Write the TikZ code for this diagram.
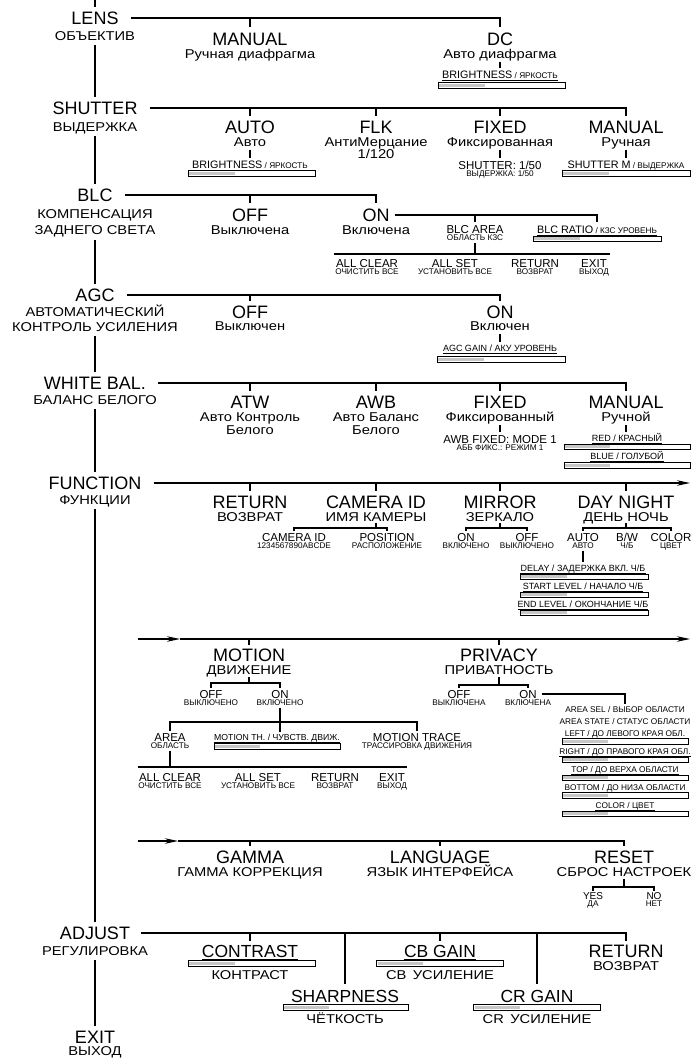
\documentclass[tikz,border=0pt]{standalone}
\usepackage{fontspec}
\setmainfont{Liberation Sans}
\newfontfamily\widefont{Liberation Sans}[FakeStretch=1.15]
\usetikzlibrary{arrows.meta}
\definecolor{barc}{gray}{0.78}
\tikzset{
 tb/.style={inner sep=0pt, text depth=0pt, anchor=center},
 tbig/.style={tb, font=\fontsize{18}{18}\selectfont, text height=12.9pt},
 tbig2/.style={tb, font=\fontsize{17.5}{18}\selectfont, text height=12.5pt},
 tru/.style={tb, font=\widefont\fontsize{12.8}{13}\selectfont, text height=9.2pt},
 tmid/.style={tb, font=\fontsize{11.5}{12}\selectfont, text height=8.2pt},
 tyes/.style={tb, font=\fontsize{10}{10}\selectfont, text height=7.2pt},
 tsm/.style={tb, font=\fontsize{8.2}{9}\selectfont, text height=5.9pt},
 tlab/.style={tb, font=\fontsize{10.8}{11}\selectfont, text height=7.7pt},
 tslsm/.style={tb, font=\fontsize{9}{10}\selectfont, text height=6.4pt},
 tlst/.style={tb, font=\fontsize{8.3}{9}\selectfont, text height=6pt},
 lw/.style={line width=1.1pt},
 sbox/.style={draw, line width=0.9pt, minimum height=5.5pt, inner sep=0pt, fill=white},
 arr/.style={-{Stealth[length=13pt,width=5.5pt,inset=4pt]}},
}
\newcommand\smallpart[1]{{\fontsize{8.2}{9}\selectfont #1}}
\newcommand\slab[4][]{\node[tlab,#1] (#2) at (#3) {#4};
 \draw[line width=0.6pt] ([yshift=-1.6pt]#2.south west) -- ([yshift=-1.6pt]#2.south east);}
\newcommand\sbar[3]{\node[sbox, minimum width=#3] (#1) at (#2) {};
 \fill[barc] ([shift={(1.6pt,-1.3pt)}]#1.north west) rectangle ([shift={(0.37*#3,1.9pt)}]#1.south west);}
\begin{document}
\begin{tikzpicture}[x=1pt,y=-1pt]
\fill[white] (0,0) rectangle (691,1059);
\useasboundingbox (0,0) rectangle (691,1059);

% ---------- main column ----------
\coordinate (mtop) at (95,0);
\node[tbig] (lens) at (95,18) {LENS};
\node[tru] (lensr) at (95,36) {ОБЪЕКТИВ};
\node[tbig] (sh) at (95,108) {SHUTTER};
\node[tru] (shr) at (95,127) {ВЫДЕРЖКА};
\node[tbig] (blc) at (95,195) {BLC};
\node[tru] (blcr) at (95,214) {КОМПЕНСАЦИЯ};
\node[tru] (blcr2) at (95,230) {ЗАДНЕГО СВЕТА};
\node[tbig] (agc) at (95,295) {AGC};
\node[tru] (agcr) at (95,312) {АВТОМАТИЧЕСКИЙ};
\node[tru] (agcr2) at (95,327) {КОНТРОЛЬ УСИЛЕНИЯ};
\node[tbig] (wb) at (95,383) {WHITE BAL.};
\node[tru] (wbr) at (95,400) {БАЛАНС БЕЛОГО};
\node[tbig] (fn) at (95,483) {FUNCTION};
\node[tru] (fnr) at (95,500) {ФУНКЦИИ};
\node[tbig] (adj) at (95,933) {ADJUST};
\node[tru] (adjr) at (95,951) {РЕГУЛИРОВКА};
\node[tbig] (ex) at (95,1037) {EXIT};
\node[tru] (exr) at (95,1051) {ВЫХОД};

\draw[lw] (mtop) -- ([yshift=4pt]lens.north);
\draw[lw] ([yshift=-4pt]lensr.south) -- ([yshift=4pt]sh.north);
\draw[lw] ([yshift=-4pt]shr.south) -- ([yshift=4pt]blc.north);
\draw[lw] ([yshift=-5pt]blcr2.south) -- ([yshift=4pt]agc.north);
\draw[lw] ([yshift=-4pt]agcr2.south) -- ([yshift=4pt]wb.north);
\draw[lw] ([yshift=-4pt]wbr.south) -- ([yshift=4pt]fn.north);
\draw[lw] ([yshift=-4pt]fnr.south) -- ([yshift=4pt]adj.north);
\draw[lw] ([yshift=-4pt]adjr.south) -- ([yshift=4pt]ex.north);

% ---------- LENS ----------
\node[tbig] (l1) at (250,39) {MANUAL};
\node[tru] (l1r) at (250,54) {Ручная диафрагма};
\node[tbig] (l2) at (500,39) {DC};
\node[tru] (l2r) at (500,54) {Авто диафрагма};
\slab{l2s}{500,75}{BRIGHTNESS\smallpart{ / ЯРКОСТЬ}}
\sbar{l2b}{501.5,85.5}{127pt}
\draw[lw] ([xshift=12pt]lens.east) -- (l2.north |- lens.east) -- ([yshift=5pt]l2.north);
\draw[lw] (l1.north |- lens.east) -- ([yshift=5pt]l1.north);
\draw[lw] ([yshift=-3pt]l2r.south) -- ([yshift=3pt]l2r.south |- l2s.north);

% ---------- SHUTTER ----------
\node[tbig] (s1) at (250,127) {AUTO};
\node[tru] (s1r) at (250,142) {Авто};
\slab{s1s}{250,165}{BRIGHTNESS\smallpart{ / ЯРКОСТЬ}}
\sbar{s1b}{251.5,173.5}{127pt}
\node[tbig] (s2) at (376,127) {FLK};
\node[tru] (s2r) at (376,142) {АнтиМерцание};
\node[tru] (s2r2) at (376,154) {1/120};
\node[tbig] (s3) at (500,127) {FIXED};
\node[tru] (s3r) at (500,142) {Фиксированная};
\node[tmid] (s3a) at (500,165) {SHUTTER: 1/50};
\node[tsm] (s3b) at (500,174) {ВЫДЕРЖКА: 1/50};
\node[tbig] (s4) at (626,127) {MANUAL};
\node[tru] (s4r) at (626,142) {Ручная};
\slab{s4s}{626,165}{SHUTTER M\smallpart{ / ВЫДЕРЖКА}}
\sbar{s4b}{626,173.5}{128pt}
\draw[lw] ([xshift=12pt]sh.east) -- (s4.north |- sh.east) -- ([yshift=4pt]s4.north);
\foreach \n in {s1,s2,s3} \draw[lw] (\n.north |- sh.east) -- ([yshift=4pt]\n.north);
\draw[lw] ([yshift=-3pt]s1r.south) -- ([yshift=3pt]s1r.south |- s1s.north);
\draw[lw] ([yshift=-3pt]s3r.south) -- ([yshift=3pt]s3r.south |- s3a.north);
\draw[lw] ([yshift=-3pt]s4r.south) -- ([yshift=3pt]s4r.south |- s4s.north);

% ---------- BLC ----------
\node[tbig] (b1) at (250,215) {OFF};
\node[tru] (b1r) at (250,230) {Выключена};
\node[tbig] (b2) at (376,215) {ON};
\node[tru] (b2r) at (376,230) {Включена};
\draw[lw] ([xshift=12pt]blc.east) -- (b2.north |- blc.east) -- ([yshift=5pt]b2.north);
\draw[lw] (b1.north |- blc.east) -- ([yshift=5pt]b1.north);
\node[tmid] (b3) at (475,229) {BLC AREA};
\node[tsm] (b3r) at (475,237.5) {ОБЛАСТЬ КЗС};
\slab{b4s}{597,229.5}{BLC RATIO\smallpart{ / КЗС УРОВЕНЬ}}
\sbar{b4b}{597,239}{128pt}
\draw[lw] ([xshift=5pt]b2.east) -- (b4s.north |- b2.east) -- ([yshift=3pt]b4s.north);
\draw[lw] (b3.north |- b2.east) -- ([yshift=3pt]b3.north);
\coordinate (bbL) at (334,254);
\coordinate (bbR) at (610,254);
\draw[lw] (bbL) -- (bbR);
\draw[lw] ([yshift=-2pt]b3r.south) -- (b3r.south |- bbL);
\node[tmid] (b5) at (367,263) {ALL CLEAR};
\node[tsm] (b5r) at (367,272) {ОЧИСТИТЬ ВСЕ};
\node[tmid] (b6) at (455,263) {ALL SET};
\node[tsm] (b6r) at (455,272) {УСТАНОВИТЬ ВСЕ};
\node[tmid] (b7) at (535,263) {RETURN};
\node[tsm] (b7r) at (535,272) {ВОЗВРАТ};
\node[tmid] (b8) at (594,263) {EXIT};
\node[tsm] (b8r) at (594,272) {ВЫХОД};

% ---------- AGC ----------
\node[tbig] (a1) at (250,312) {OFF};
\node[tru] (a1r) at (250,326) {Выключен};
\node[tbig] (a2) at (500,312) {ON};
\node[tru] (a2r) at (500,326) {Включен};
\slab[tslsm]{a2s}{500,348.5}{AGC GAIN / АКУ УРОВЕНЬ}
\sbar{a2b}{501,359.5}{128pt}
\draw[lw] ([xshift=12pt]agc.east) -- (a2.north |- agc.east) -- ([yshift=4pt]a2.north);
\draw[lw] (a1.north |- agc.east) -- ([yshift=4pt]a1.north);
\draw[lw] ([yshift=-3pt]a2r.south) -- ([yshift=3pt]a2r.south |- a2s.north);

% ---------- WHITE BAL ----------
\node[tbig] (w1) at (250,402) {ATW};
\node[tru] (w1r) at (250,417) {Авто Контроль};
\node[tru] (w1r2) at (250,430) {Белого};
\node[tbig] (w2) at (376,402) {AWB};
\node[tru] (w2r) at (376,417) {Авто Баланс};
\node[tru] (w2r2) at (376,430) {Белого};
\node[tbig] (w3) at (500,402) {FIXED};
\node[tru] (w3r) at (500,417) {Фиксированный};
\node[tmid] (w3a) at (500,439) {AWB FIXED: MODE 1};
\node[tsm] (w3b) at (500,448) {АББ ФИКС.: РЕЖИМ 1};
\node[tbig] (w4) at (626,402) {MANUAL};
\node[tru] (w4r) at (626,417) {Ручной};
\slab[tslsm]{w4s}{627,438}{RED / КРАСНЫЙ}
\sbar{w4b}{627,447}{126pt}
\slab[tslsm]{w4t}{627,456.5}{BLUE / ГОЛУБОЙ}
\sbar{w4c}{627,465.5}{126pt}
\draw[lw] ([xshift=12pt]wb.east) -- (w4.north |- wb.east) -- ([yshift=4pt]w4.north);
\foreach \n in {w1,w2,w3} \draw[lw] (\n.north |- wb.east) -- ([yshift=4pt]\n.north);
\draw[lw] ([yshift=-3pt]w3r.south) -- ([yshift=3pt]w3r.south |- w3a.north);
\draw[lw] ([yshift=-3pt]w4r.south) -- ([yshift=3pt]w4r.south |- w4s.north);

% ---------- FUNCTION ----------
\coordinate (fend) at (690,483);
\draw[lw,arr] ([xshift=12pt]fn.east) -- (fend);
\node[tbig] (f1) at (250,502) {RETURN};
\node[tru] (f1r) at (250,516.5) {ВОЗВРАТ};
\node[tbig] (f2) at (376,502) {CAMERA ID};
\node[tru] (f2r) at (376,516.5) {ИМЯ КАМЕРЫ};
\node[tbig] (f3) at (500,502) {MIRROR};
\node[tru] (f3r) at (500,516.5) {ЗЕРКАЛО};
\node[tbig] (f4) at (626,502) {DAY NIGHT};
\node[tru] (f4r) at (626,516.5) {ДЕНЬ НОЧЬ};
\foreach \n in {f1,f2,f3,f4} \draw[lw] (\n.north |- fn.east) -- ([yshift=4pt]\n.north);

\node[tmid] (f5) at (294,537) {CAMERA ID};
\node[tsm] (f5r) at (294,546) {1234567890ABCDE};
\node[tmid] (f6) at (387,537) {POSITION};
\node[tsm] (f6r) at (387,546) {РАСПОЛОЖЕНИЕ};
\node[tmid] (f7) at (466,537) {ON};
\node[tsm] (f7r) at (466,546) {ВКЛЮЧЕНО};
\node[tmid] (f8) at (527,537) {OFF};
\node[tsm] (f8r) at (527,546) {ВЫКЛЮЧЕНО};
\node[tmid] (f9) at (583,537) {AUTO};
\node[tsm] (f9r) at (583,546) {АВТО};
\node[tmid] (f10) at (627,537) {B/W};
\node[tsm] (f10r) at (627,546) {Ч/Б};
\node[tmid] (f11) at (671,537) {COLOR};
\node[tsm] (f11r) at (671,546) {ЦВЕТ};
\coordinate (f2c) at (376,528);
\coordinate (f3c) at (500,528);
\coordinate (f4c) at (626,528);
\draw[lw] ([yshift=-2pt]f2r.south) -- (f2c);
\draw[lw] ([yshift=-2pt]f3r.south) -- (f3c);
\draw[lw] ([yshift=-2pt]f4r.south) -- (f4c);
\draw[lw] ([yshift=1.5pt]f5.north) |- (f2c) -| ([yshift=1.5pt]f6.north);
\draw[lw] ([yshift=1.5pt]f7.north) |- (f3c) -| ([yshift=1.5pt]f8.north);
\draw[lw] ([yshift=1.5pt]f9.north) |- (f4c) -| ([yshift=1.5pt]f11.north);
\slab[tslsm]{d1}{583,568}{DELAY / ЗАДЕРЖКА ВКЛ. Ч/Б}
\sbar{d1b}{584,577}{128pt}
\slab[tslsm]{d2}{583,586}{START LEVEL / НАЧАЛО Ч/Б}
\sbar{d2b}{584,595}{128pt}
\slab[tslsm]{d3}{583,604}{END LEVEL / ОКОНЧАНИЕ Ч/Б}
\sbar{d3b}{584,613}{128pt}
\draw[lw] ([yshift=-1.5pt]f9r.south) -- ([yshift=2.5pt]f9r.south |- d1.north);

% ---------- row 2 ----------
\coordinate (r2a) at (138,639);
\coordinate (r2m) at (180,639);
\coordinate (r2b) at (690,639);
\draw[lw,arr] (r2a) -- (r2m);
\draw[lw,arr] (r2m) -- (r2b);
\node[tbig] (mo) at (249,655.5) {MOTION};
\node[tru] (mor) at (249,670) {ДВИЖЕНИЕ};
\node[tbig] (pv) at (499,655.5) {PRIVACY};
\node[tru] (pvr) at (499,670) {ПРИВАТНОСТЬ};
\draw[lw] (mo.north |- r2a) -- ([yshift=4pt]mo.north);
\draw[lw] (pv.north |- r2a) -- ([yshift=4pt]pv.north);

\node[tmid] (m1) at (211,694) {OFF};
\node[tsm] (m1r) at (211,703) {ВЫКЛЮЧЕНО};
\node[tmid] (m2) at (280,694) {ON};
\node[tsm] (m2r) at (280,703) {ВКЛЮЧЕНО};
\coordinate (moc) at (249,683);
\draw[lw] ([yshift=-2pt]mor.south) -- (moc);
\draw[lw] ([yshift=1.5pt]m1.north) |- (moc) -| ([yshift=1.5pt]m2.north);
\node[tmid] (m3) at (170,737) {AREA};
\node[tsm] (m3r) at (170,746) {ОБЛАСТЬ};
\slab[tslsm,font=\fontsize{8.7}{9}\selectfont]{m4}{277,737.5}{MOTION TH. / ЧУВСТВ. ДВИЖ.}
\sbar{m4b}{277,746.5}{126pt}
\node[tmid] (m5) at (417,737) {MOTION TRACE};
\node[tsm] (m5r) at (417,746) {ТРАССИРОВКА ДВИЖЕНИЯ};
\coordinate (mbus) at (280,722);
\draw[lw] ([yshift=-1.5pt]m2r.south) -- ([yshift=2pt]m2r.south |- m4.north);
\draw[lw] ([yshift=1.5pt]m3.north) |- (mbus) -| ([yshift=1.5pt]m5.north);
\coordinate (abL) at (138,767);
\coordinate (abR) at (407,767);
\draw[lw] (abL) -- (abR);
\draw[lw] ([yshift=-1.5pt]m3r.south) -- (m3r.south |- abL);
\node[tmid] (m6) at (170,777) {ALL CLEAR};
\node[tsm] (m6r) at (170,786) {ОЧИСТИТЬ ВСЕ};
\node[tmid] (m7) at (258,777) {ALL SET};
\node[tsm] (m7r) at (258,786) {УСТАНОВИТЬ ВСЕ};
\node[tmid] (m8) at (335,777) {RETURN};
\node[tsm] (m8r) at (335,786) {ВОЗВРАТ};
\node[tmid] (m9) at (392,777) {EXIT};
\node[tsm] (m9r) at (392,786) {ВЫХОД};

\node[tmid] (p1) at (459,694) {OFF};
\node[tsm] (p1r) at (459,703) {ВЫКЛЮЧЕНА};
\node[tmid] (p2) at (528,694) {ON};
\node[tsm] (p2r) at (528,703) {ВКЛЮЧЕНА};
\coordinate (pvc) at (499,685);
\draw[lw] ([yshift=-2pt]pvr.south) -- (pvc);
\draw[lw] ([yshift=1.5pt]p1.north) |- (pvc) -| ([yshift=1.5pt]p2.north);
\node[tlst] (pl1) at (625,709) {AREA SEL / ВЫБОР ОБЛАСТИ};
\node[tlst] (pl2) at (625,721) {AREA STATE / СТАТУС ОБЛАСТИ};
\slab[tlst]{pl3}{625,733}{LEFT / ДО ЛЕВОГО КРАЯ ОБЛ.}
\sbar{pl3b}{625,741.5}{126pt}
\slab[tlst]{pl4}{625,751.5}{RIGHT / ДО ПРАВОГО КРАЯ ОБЛ.}
\sbar{pl4b}{625,760}{126pt}
\slab[tlst]{pl5}{625,769.5}{TOP / ДО ВЕРХА ОБЛАСТИ}
\sbar{pl5b}{625,778}{126pt}
\slab[tlst]{pl6}{625,787}{BOTTOM / ДО НИЗА ОБЛАСТИ}
\sbar{pl6b}{625,795.5}{126pt}
\slab[tlst]{pl7}{625,805}{COLOR / ЦВЕТ}
\sbar{pl7b}{625,814}{126pt}
\draw[lw] ([xshift=5pt]p2.east) -- (pl1.north |- p2.east) -- ([yshift=1.5pt]pl1.north);

% ---------- row 3 ----------
\coordinate (r3a) at (138,841);
\coordinate (r3m) at (178,841);
\node[tbig] (ga) at (250,857) {GAMMA};
\node[tru] (gar) at (250,872) {ГАММА КОРРЕКЦИЯ};
\node[tbig] (lg) at (440,857) {LANGUAGE};
\node[tru] (lgr) at (440,872) {ЯЗЫК ИНТЕРФЕЙСА};
\node[tbig] (rs) at (624,857) {RESET};
\node[tru] (rsr) at (624,872) {СБРОС НАСТРОЕК};
\draw[lw,arr] (r3a) -- (r3m);
\draw[lw] (r3m) -- (rs.north |- r3m) -- ([yshift=4pt]rs.north);
\draw[lw] (ga.north |- r3m) -- ([yshift=4pt]ga.north);
\draw[lw] (lg.north |- r3m) -- ([yshift=4pt]lg.north);
\node[tyes] (y1) at (593,896) {YES};
\node[tsm] (y1r) at (593,903.5) {ДА};
\node[tyes] (n1) at (654,896) {NO};
\node[tsm] (n1r) at (654,903.5) {НЕТ};
\coordinate (rsc) at (624,887);
\draw[lw] ([yshift=-2pt]rsr.south) -- (rsc);
\draw[lw] ([yshift=1.5pt]y1.north) |- (rsc) -| ([yshift=1.5pt]n1.north);

% ---------- ADJUST ----------
\slab[tbig2]{j1}{250,951.5}{CONTRAST}
\sbar{j1b}{251.5,963.5}{127pt}
\node[tru] (j1r) at (250,975) {КОНТРАСТ};
\slab[tbig2]{j2}{440,951.5}{CB GAIN}
\sbar{j2b}{440,963.5}{127pt}
\node[tru] (j2r) at (440,975) {CB\enspace УСИЛЕНИЕ};
\slab[tbig2]{j3}{345,996.5}{SHARPNESS}
\sbar{j3b}{345.5,1007.5}{125pt}
\node[tru] (j3r) at (345,1019) {ЧЁТКОСТЬ};
\slab[tbig2]{j4}{537,996.5}{CR GAIN}
\sbar{j4b}{537,1007.5}{127pt}
\node[tru] (j4r) at (537,1019) {CR\enspace УСИЛЕНИЕ};
\node[tbig] (j5) at (626,951.5) {RETURN};
\node[tru] (j5r) at (626,966) {ВОЗВРАТ};
\draw[lw] ([xshift=11pt]adj.east) -- (j5.north |- adj.east) -- ([yshift=4pt]j5.north);
\foreach \n in {j1,j2} \draw[lw] (\n.north |- adj.east) -- ([yshift=4pt]\n.north);
\foreach \n in {j3,j4} \draw[lw] (\n.north |- adj.east) -- ([yshift=6pt]\n.north);
\end{tikzpicture}
\end{document}
